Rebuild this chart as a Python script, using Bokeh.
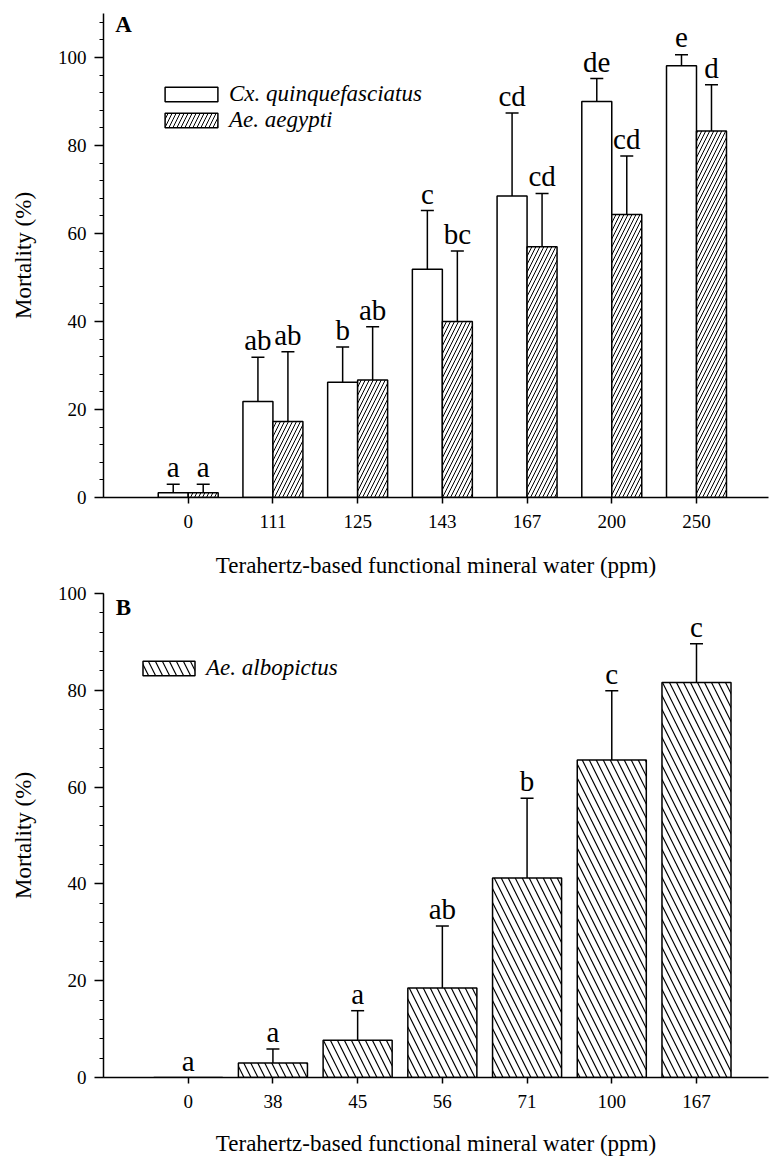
import numpy as np
from bokeh.plotting import figure
from bokeh.models import (Range1d, SingleIntervalTicker, FixedTicker, Whisker, TeeHead,
                          ColumnDataSource, Legend, LegendItem, Label)
from bokeh.layouts import column
from bokeh.embed import file_html
from bokeh.resources import INLINE
from bokeh.core.properties import value

# ---------------- data: panel A ----------------
conc_a = ["0", "111", "125", "143", "167", "200", "250"]
cx_mean = [1.1, 21.8, 26.2, 51.9, 68.5, 90.0, 98.1]
cx_upper = [3.0, 31.9, 34.2, 65.2, 87.4, 95.2, 100.6]
cx_letters = ["a", "ab", "b", "c", "cd", "de", "e"]
ae_mean = [1.1, 17.3, 26.7, 40.0, 57.0, 64.3, 83.3]
ae_upper = [3.0, 33.1, 38.8, 56.0, 69.1, 77.6, 93.8]
ae_letters = ["a", "ab", "ab", "bc", "cd", "cd", "d"]

# ---------------- data: panel B ----------------
conc_b = ["0", "38", "45", "56", "71", "100", "167"]
alb_mean = [0.0, 3.0, 7.7, 18.5, 41.2, 65.6, 81.6]
alb_upper = [0.0, 5.9, 13.8, 31.3, 57.7, 79.9, 89.6]
alb_letters = ["a", "a", "a", "ab", "b", "c", "c"]

SERIF = "Liberation Serif"
XLABEL = "Terahertz-based functional mineral water (ppm)"
YLABEL = "Mortality (%)"
FRAME_H = 484


def make_fig(height, ymax, cats, b_left, b_top, b_bottom, xlab_standoff):
    p = figure(width=769, height=height, x_range=Range1d(0, 7.85), y_range=Range1d(0, ymax),
               output_backend="svg", toolbar_location=None,
               min_border_left=b_left, min_border_right=1,
               min_border_top=b_top, min_border_bottom=b_bottom)
    p.outline_line_color = None
    p.xgrid.visible = False
    p.ygrid.visible = False
    p.background_fill_color = "white"
    p.border_fill_color = "white"

    xa = p.xaxis[0]
    xa.ticker = FixedTicker(ticks=list(range(1, len(cats) + 1)))
    xa.major_label_overrides = {i + 1: c for i, c in enumerate(cats)}
    xa.major_tick_in = 0
    xa.major_tick_out = 6
    xa.minor_tick_in = 0
    xa.minor_tick_out = 0
    xa.axis_line_width = 1.5
    xa.major_tick_line_width = 1.5
    xa.major_label_standoff = 11
    xa.major_label_text_font = SERIF
    xa.major_label_text_font_size = "19px"
    xa.major_label_text_color = "black"
    xa.axis_label = XLABEL
    xa.axis_label_text_font = SERIF
    xa.axis_label_text_font_size = "23px"
    xa.axis_label_text_font_style = "normal"
    xa.axis_label_text_color = "black"
    xa.axis_label_standoff = xlab_standoff

    ya = p.yaxis[0]
    ya.ticker = SingleIntervalTicker(interval=20, num_minor_ticks=5)
    ya.major_tick_in = 0
    ya.major_tick_out = 9
    ya.minor_tick_in = 0
    ya.minor_tick_out = 4
    ya.axis_line_width = 1.5
    ya.major_tick_line_width = 1.5
    ya.minor_tick_line_width = 1.2
    ya.major_label_standoff = 8
    ya.major_label_text_font = SERIF
    ya.major_label_text_font_size = "19px"
    ya.major_label_text_color = "black"
    ya.axis_label = YLABEL
    ya.axis_label_text_font = SERIF
    ya.axis_label_text_font_size = "23px"
    ya.axis_label_text_font_style = "normal"
    ya.axis_label_text_color = "black"
    ya.axis_label_standoff = 19
    return p


def add_errors(p, xs, means, uppers, letters, ymax):
    keep = [i for i in range(len(xs)) if uppers[i] > means[i]]
    src = ColumnDataSource(dict(x=[xs[i] for i in keep],
                                lower=[means[i] for i in keep],
                                upper=[uppers[i] for i in keep]))
    w = Whisker(source=src, base="x", lower="lower", upper="upper", dimension="height",
                line_width=1.5, line_color="black", lower_head=None,
                upper_head=TeeHead(size=13, line_width=1.5, line_color="black"))
    p.add_layout(w)
    gap = 17.0 * ymax / FRAME_H  # letters float a few px above the cap
    tops = [max(m, u) + gap for m, u in zip(means, uppers)]
    tsrc = ColumnDataSource(dict(x=xs, y=tops, t=letters))
    p.text(x="x", y="y", text="t", source=tsrc, text_font=value(SERIF),
           text_font_size=value("29px"), text_align="center", text_baseline="alphabetic",
           text_color="black")


# ---------------- panel A ----------------
pa = make_fig(584, 110, conc_a, 103, 13, 87, 22)
n = len(conc_a)
wa = 0.354
x_cx = [i + 1 - wa / 2 for i in range(n)]
x_ae = [i + 1 + wa / 2 for i in range(n)]
r_cx = pa.vbar(x=x_cx, top=cx_mean, bottom=0, width=wa, fill_color="white",
               line_color="black", line_width=1.5)
r_ae = pa.vbar(x=x_ae, top=ae_mean, bottom=0, width=wa, fill_color="white",
               line_color="black", line_width=1.5, hatch_pattern="right_diagonal_line",
               hatch_color="black", hatch_scale=8, hatch_weight=1)
add_errors(pa, x_cx, cx_mean, cx_upper, cx_letters, 110)
add_errors(pa, x_ae, ae_mean, ae_upper, ae_letters, 110)

leg_a = Legend(items=[LegendItem(label="Cx. quinquefasciatus", renderers=[r_cx]),
                      LegendItem(label="Ae. aegypti", renderers=[r_ae])],
               location=(55, 364), glyph_width=66, glyph_height=18, label_height=18,
               label_standoff=5, spacing=0, padding=0, margin=0,
               label_text_font=SERIF, label_text_font_size="23px",
               label_text_font_style="italic", label_text_color="black",
               border_line_color=None, background_fill_alpha=0)
pa.add_layout(leg_a)
pa.add_layout(Label(x=0.14, y=107.5, text="A", text_font=SERIF, text_font_size="23px",
                    text_font_style="bold", text_baseline="alphabetic", text_color="black"))

# ---------------- panel B ----------------
pb = make_fig(576, 100, conc_b, 101, 9, 83, 20)
wb = 0.815
x_b = [i + 1 for i in range(len(conc_b))]
r_alb = pb.vbar(x=x_b, top=alb_mean, bottom=0, width=wb, fill_color="white",
                line_color="black", line_width=1.5, hatch_pattern="left_diagonal_line",
                hatch_color="black", hatch_scale=14, hatch_weight=1.2)
add_errors(pb, x_b, alb_mean, alb_upper, alb_letters, 100)
leg_b = Legend(items=[LegendItem(label="Ae. albopictus", renderers=[r_alb])],
               location=(33, 396), glyph_width=65, glyph_height=18, label_height=18,
               label_standoff=5, spacing=0, padding=0, margin=0,
               label_text_font=SERIF, label_text_font_size="23px",
               label_text_font_style="italic", label_text_color="black",
               border_line_color=None, background_fill_alpha=0)
pb.add_layout(leg_b)
pb.add_layout(Label(x=0.145, y=97.2, text="B", text_font=SERIF, text_font_size="23px",
                    text_font_style="bold", text_baseline="alphabetic", text_color="black"))

layout = column(pa, pb, spacing=0)
open("out.html", "w").write(file_html(layout, INLINE))
